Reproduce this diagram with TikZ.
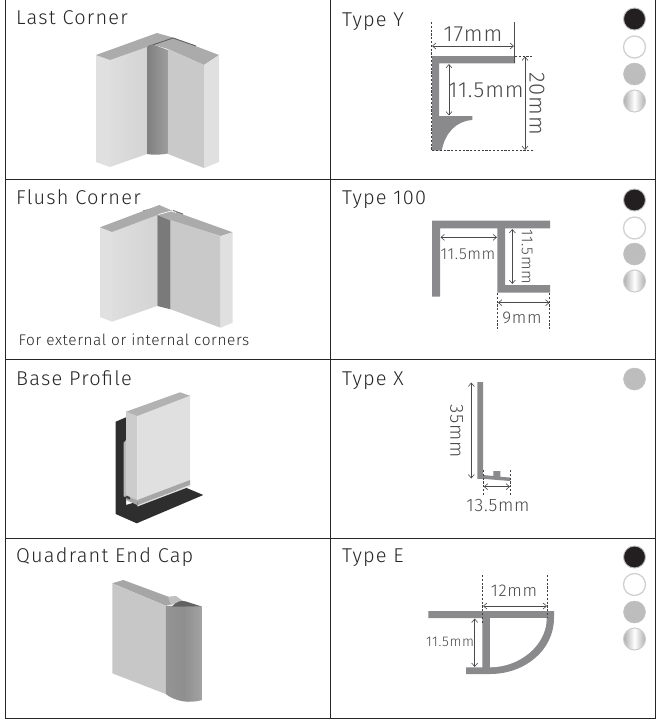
\documentclass[tikz,border=0pt]{standalone}
\usepackage{fontspec}
\setmainfont{Carlito}
\newfontfamily\din[UprightFont={* Light},LetterSpace=6]{Fira Sans}
\newfontfamily\dinb[UprightFont={* Light},LetterSpace=4]{Fira Sans}
\usetikzlibrary{arrows.meta}
\definecolor{prof}{HTML}{8A8A8C}
\definecolor{dimc}{HTML}{4A4A4C}
\definecolor{swblack}{HTML}{231F20}
\tikzset{
  x=1pt,y=-1pt,
  grid/.style={draw=black!85,line width=1.1pt},
  prf/.style={fill=prof,draw=none},
  head/.style={font=\din\fontsize{20}{22}\selectfont,text=black!85,anchor=base west,inner sep=0pt},
  dim/.style={text=dimc,inner sep=0pt,font=\dinb\fontsize{#1}{#1}\selectfont},
  dim/.default=17,
  dimar/.style={draw=dimc,line width=.6pt,{Straight Barb[length=3.5pt,width=6pt]}-{Straight Barb[length=3.5pt,width=6pt]}},
  dsh/.style={draw=black!75,line width=.55pt,dash pattern=on 2.2pt off 1.6pt},
  swk/.style={fill=swblack,draw=black!25,line width=.9pt},
  sww/.style={fill=white,draw=black!18,line width=1.3pt},
  swg/.style={fill=black!26,draw=black!24,line width=.5pt},
  sws/.style={shade,shading angle=45,left color=black!32,right color=black!32,middle color=white,draw=black!20,line width=1pt},
  ftop/.style={fill=black!33,draw=none},
  fside/.style={fill=black!12,draw=none},
  fmain/.style={fill=black!21,draw=none},
  soft/.style={left color=black!13,middle color=black!23,right color=black!17},
}
\begin{document}
\begin{tikzpicture}
\useasboundingbox (0,0) rectangle (658,724);
\fill[white] (0,0) rectangle (658,724);
% grid
\draw[grid] (5.5,0) -- (5.5,718.5) -- (655.3,718.5) -- (655.3,0);
\draw[grid] (330.7,0) -- (330.7,718.5);
\foreach \yy in {179.5,359.5,538.7}{\draw[grid] (5.5,\yy) -- (655.3,\yy);}
% headings
\node[head] (h1) at (16,24) {Last Corner};
\node[head] (h2) at (16,204) {Flush Corner};
\node[head] (h3) at (16,385) {Base Profile};
\node[head] (h4) at (16,562.7) {Quadrant End Cap};
\node[head] (h5) at (342,26) {Type Y};
\node[head] (h6) at (342,204) {Type 100};
\node[head] (h7) at (342,385) {Type X};
\node[head] (h8) at (342,562.7) {Type E};
\node[anchor=base west,inner sep=0pt,text=black!85,font=\dinb\fontsize{15.4}{17}\selectfont] (note) at (18.5,345.7) {For external or internal corners};
% Last Corner
\fill[fside] (96,55) -- (110,60) -- (110,167) -- (96,162) -- cycle;
\shade[soft] (110,60) -- (147,47) -- (147,154) -- (110,167) -- cycle;
\fill[ftop] (96,55) -- (157,33) -- (173,37.5) -- (219,55) -- (204,65) -- (168,49) -- (153,44.5) -- (147,47) -- (110,60) -- cycle;
\draw[black!62,line width=.9pt] (148,46.5) -- (173,38) -- (196,46);
\shade[left color=black!50,right color=black!38] (147,47) -- (153,44.5) -- (168,50) -- (168,153.5) .. controls (160,155) and (153,155) .. (147,154) -- cycle;
\fill[fmain] (168,49) -- (204,65) -- (204,168) -- (168,154) -- cycle;
\fill[fside] (204,65) -- (219,55) -- (219,162) -- (204,168) -- cycle;
% Flush Corner
\fill[fside] (100,227.3) -- (112,232) -- (112,321.7) -- (100,317) -- cycle;
\shade[soft] (112,232) -- (157,215) -- (157,306) -- (112,321.7) -- cycle;
\fill[black!55] (143,210.5) -- (153,208) -- (156,210) -- (144,214) -- cycle;
\fill[black!55] (173,210) -- (183,213.5) -- (183,216) -- (173,213) -- cycle;
\fill[ftop] (100,227.3) -- (159.3,205) -- (173,211) -- (232.7,232.3) -- (220.7,236) -- (170.7,220.7) -- (157.3,215) -- (112,232) -- cycle;
\draw[white,line width=.7pt] (158.5,214.5) -- (171,211) -- (176,212.5);
\fill[black!52] (157.3,215) -- (170.7,220.7) -- (170.7,309.3) -- (157.3,306) -- cycle;
\fill[fmain] (170.7,220) -- (220.7,236) -- (220.7,327.7) -- (170.7,309.3) -- cycle;
\fill[fside] (220.7,236) -- (232.7,232.3) -- (232.7,322.7) -- (220.7,327.7) -- cycle;
% Base Profile
\fill[black!82] (115.7,421.7) -- (126,417.3) -- (126,505) -- (185,487.3) -- (203.3,495) -- (136.7,523.3) -- (115.7,514) -- cycle;
\fill[black!28] (123.5,443) -- (126,440) -- (126,496) -- (125,497) -- (123.5,496) -- cycle;
\fill[black!20] (126,411.7) -- (137.3,416) -- (137.3,500) -- (126,496) -- cycle;
\fill[black!12] (137.3,416) -- (190,395.7) -- (190,480) -- (137.3,500) -- cycle;
\fill[black!30] (126,411.7) -- (180,392.3) -- (190,395.7) -- (137.3,416) -- cycle;
\fill[black!35] (137.3,500) -- (190,480) -- (190,485) -- (137.3,505) -- cycle;
\fill[black!12] (137.3,505) -- (190,485) -- (190,486.5) -- (137.3,506.5) -- cycle;
\fill[black!35] (126,496) -- (137.3,500) -- (137.3,505) -- (126,500) -- cycle;
\fill[black!75] (126,495.5) -- (130,497) -- (130,499.5) -- (126,498) -- cycle;
% Quadrant End Cap
\fill[black!35] (112.3,583.3) -- (123.3,580) -- (168.3,596.7) -- (181.7,601.7) -- (165.7,605.7) -- cycle;
\fill[black!22] (112.3,583.3) -- (165.7,605.7) -- (165.7,694) -- (112.3,673.3) -- cycle;
\fill[black!25] (168,596.7) -- (176,596) -- (183.5,601.5) -- (171,605) -- cycle;
\shade[left color=black!42,right color=black!36,middle color=black!44] (165.7,605.7) -- (202.3,606.7) -- (202.3,700) .. controls (190,703.5) and (176,702) .. (165.7,694) -- cycle;
\fill[black!62] (172,606.5) .. controls (177,601) and (182,600) .. (186,601.5) -- (202.3,606.7) -- cycle;
% Type Y profile
\path[prf] (432,56) -- (515,56) -- (515,63.3) -- (439,63.3) -- (439,116) -- (472.3,116) -- (472.3,120) .. controls (456,121) and (445,133) .. (441.7,150.7) -- (432,150.7) -- cycle;
\draw[dsh] (431.5,22) -- (431.5,150.5) -- (533,150.5);
\draw[dsh] (515,56) -- (533,56);
\draw[draw=black!70,line width=.55pt] (514.3,22) -- (514.3,63);
\draw[dimar] (432,46) -- (514,46);
\draw[dimar] (449,64) -- (449,115.5);
\draw[dimar] (525,56.5) -- (525,150);
\node[dim=22] (yw) at (473,34) {17mm};
\node[dim=22] (yh) at (486,90) {11.5mm};
\node[dim=22,rotate=-90] (yv) at (537,104) {20mm};
% Type 100 profile
\path[prf] (432,220.7) -- (550,220.7) -- (550,228.3) -- (505,228.3) -- (505,285) -- (550,285) -- (550,292.7) -- (497.3,292.7) -- (497.3,228.3) -- (440,228.3) -- (440,296.7) -- (432,296.7) -- cycle;
\draw[dimar] (440.5,237.3) -- (497,237.3);
\draw[dimar] (512.3,229) -- (512.3,284);
\draw[dimar] (498,302.7) -- (549.5,302.7);
\draw[dsh] (497.3,293) -- (497.3,331);
\draw[dsh] (549.7,293) -- (549.7,331);
\node[dim=16] (ca) at (468,254) {11.5mm};
\node[dim=16,rotate=-90] (cb) at (527,256.7) {11.5mm};
\node[dim=17] (cc) at (522,318) {9mm};
% Type X profile
\path[prf] (477.3,382) -- (483,382) -- (483,475) -- (493.4,476) -- (493.4,471) -- (500.3,471) -- (500.3,476.8) -- (510,477.5) -- (510,481) -- (483,478.8) -- (477.3,478.8) -- cycle;
\draw[dimar] (471.3,382.5) -- (471.3,478.5);
\draw[dimar] (483.8,486.7) -- (510,486.7);
\draw[dsh] (483.3,470) -- (483.3,496);
\draw[dsh] (510.3,470) -- (510.3,496);
\node[dim=19,rotate=-90] (xv) at (456.7,430.7) {35mm};
\node[dim=18] (xh) at (498,505.7) {13.5mm};
% Type E profile
\path[prf] (428.3,611) -- (554,611) -- (554,618) .. controls (554,650) and (525,674) .. (490,674) -- (466,674) -- (466,667.3) -- (482.3,667.3) -- (482.3,618) -- (428.3,618) -- cycle;
\path[fill=white] (490,618) -- (546.7,618) .. controls (546.7,645) and (520,667.3) .. (490,667.3) -- cycle;
\draw[dimar] (483,606) -- (547,606);
\draw[dimar] (474.7,618.5) -- (474.7,667);
\draw[dsh] (482.3,575) -- (482.3,623);
\draw[dsh] (547.3,575) -- (547.3,618);
\node[dim=17] (ew) at (514,590.7) {12mm};
\node[dim=14] (eh) at (450,641.7) {11.5mm};
% swatches
\foreach \yy/\st in {19/swk,47/sww,74/swg,101/sws,200/swk,228/sww,254/swg,281/sws,379/swg,557/swk,584.5/sww,612/swg,639/sws}{
  \path[\st] (634.5,\yy) circle (11);
}
\end{tikzpicture}
\end{document}
